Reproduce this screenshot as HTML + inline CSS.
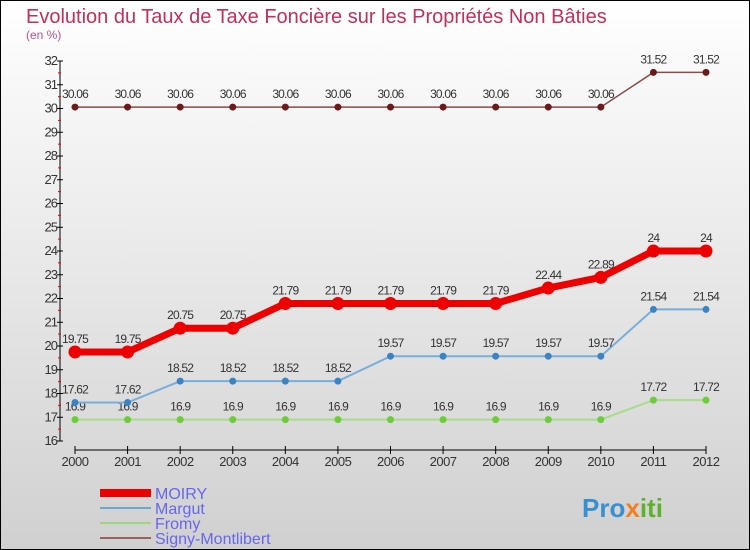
<!DOCTYPE html>
<html><head><meta charset="utf-8"><style>
body{margin:0;}
svg{display:block;font-family:"Liberation Sans",sans-serif;}
</style></head><body>
<svg id="c" width="750" height="550">
<defs><linearGradient id="bg" x1="0" y1="0" x2="0" y2="1"><stop offset="0" stop-color="#ffffff"/><stop offset="1" stop-color="#d0d0d0"/></linearGradient></defs>
<rect x="0.5" y="0.5" width="749" height="549" fill="url(#bg)" stroke="#000"/>
<text x="26" y="23" font-size="20" fill="#c0305a">Evolution du Taux de Taxe Foncière sur les Propriétés Non Bâties</text>
<text x="26" y="39" font-size="12" fill="#c0508a">(en %)</text>
<g id="axes"></g><g id="series"></g>
<g>
<rect x="100" y="489" width="51" height="8" fill="#ee0000"/>
<text x="155" y="499" font-size="16" fill="#6666ee">MOIRY</text>
<line x1="100" y1="508" x2="151" y2="508" stroke="#6fa6cf" stroke-width="2"/>
<text x="155" y="514" font-size="16" fill="#6666ee">Margut</text>
<line x1="100" y1="523" x2="151" y2="523" stroke="#9ed77a" stroke-width="2"/>
<text x="155" y="529" font-size="16" fill="#6666ee">Fromy</text>
<line x1="100" y1="538" x2="151" y2="538" stroke="#9a6060" stroke-width="2"/>
<text x="155" y="544" font-size="16" fill="#6666ee">Signy-Montlibert</text>
</g>
<text x="582" y="517" font-size="26" font-weight="bold" fill="#3a8fd0">Pro<tspan fill="#f08020">x</tspan><tspan fill="#60b030">iti</tspan></text>
</svg>
<script>
const years=[2000,2001,2002,2003,2004,2005,2006,2007,2008,2009,2010,2011,2012];
const yTicks=[16,17,18,19,20,21,22,23,24,25,26,27,28,29,30,31,32];
const moiry=[19.75,19.75,20.75,20.75,21.79,21.79,21.79,21.79,21.79,22.44,22.89,24,24];
const margut=[17.62,17.62,18.52,18.52,18.52,18.52,19.57,19.57,19.57,19.57,19.57,21.54,21.54];
const fromy=[16.9,16.9,16.9,16.9,16.9,16.9,16.9,16.9,16.9,16.9,16.9,17.72,17.72];
const signy=[30.06,30.06,30.06,30.06,30.06,30.06,30.06,30.06,30.06,30.06,30.06,31.52,31.52];
const NS="http://www.w3.org/2000/svg";
const x=i=>75+i*(631/(years.length-1));
const y=v=>441-(v-16)*(380/16);
function mk(t,a,p){const e=document.createElementNS(NS,t);for(const k in a)e.setAttribute(k,a[k]);p.appendChild(e);return e;}
const ax=document.getElementById('axes');
let l=mk('line',{x1:60,y1:y(32),x2:60,y2:y(16),stroke:'#000'},ax);

yTicks.forEach(v=>{mk('line',{x1:57,y1:y(v),x2:63,y2:y(v),stroke:'#000'},ax);
 if(v<32)mk('line',{x1:58,y1:y(v+0.5),x2:61,y2:y(v+0.5),stroke:'#e00'},ax);
 const t=mk('text',{x:57,y:y(v)+4,'font-size':13,'text-anchor':'end',fill:'#333','letter-spacing':'-1'},ax);t.textContent=v;
 });
l=mk('line',{x1:75,y1:450,x2:706,y2:450,stroke:'#000'},ax);

years.forEach((yr,i)=>{mk('line',{x1:x(i),y1:446,x2:x(i),y2:454,stroke:'#000'},ax);
 const t=mk('text',{x:x(i),y:466,'font-size':13,'text-anchor':'middle',fill:'#333','letter-spacing':'-0.5'},ax);t.textContent=yr;
 });
const sg=document.getElementById('series');
function series(name,data,color,dot,w,r){
 const g=mk('g',{},sg);
 mk('polyline',{points:data.map((v,i)=>x(i)+','+y(v)).join(' '),fill:'none',stroke:color,'stroke-width':w},g);
 data.forEach((v,i)=>{const c=mk('circle',{cx:x(i),cy:y(v),r:r,fill:dot},g);
  
  const t=mk('text',{x:x(i),y:y(v)-9,'font-size':12,'text-anchor':'middle',fill:'#333','letter-spacing':'-0.8'},g);t.textContent=v;
  });
}
series('signy',signy,'#8a4a4a','#6a1a1a',1.5,3.5);
series('fromy',fromy,'#a8dc88','#6ccc3a',2,3.5);
series('margut',margut,'#78aedb','#3a84c4',2,3.5);
series('moiry',moiry,'#ee0000','#ee0000',7,6.5);
</script>
</body></html>
